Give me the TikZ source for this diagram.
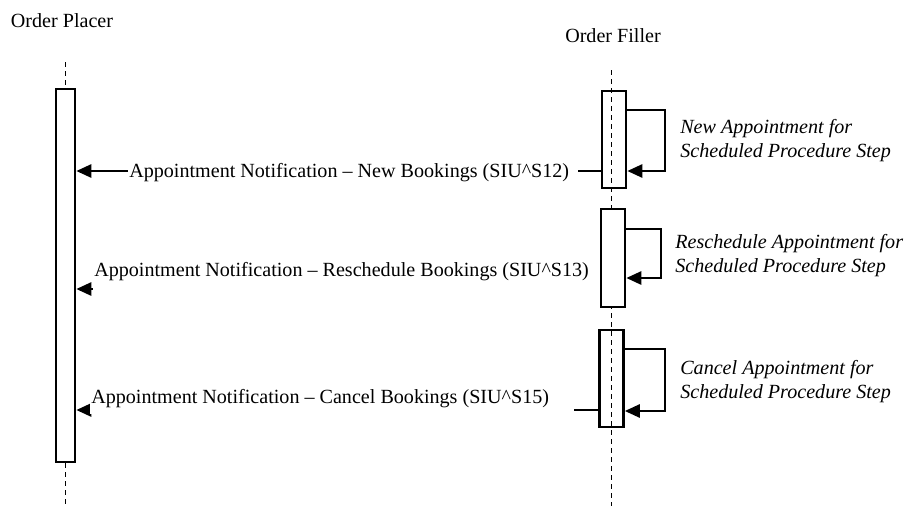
\documentclass[tikz,border=0pt]{standalone}
\usepackage{fontspec}
\setmainfont{Liberation Serif}
\usetikzlibrary{arrows.meta,positioning}
\definecolor{ink}{RGB}{0,0,0}
\tikzset{
  every picture/.style={color=ink, line width=0.6pt, font=\fontsize{20.1}{24}\selectfont},
  head/.style={inner sep=1pt},
  bar/.style={draw=ink, line width=2.6pt, minimum width=19pt, inner sep=0pt},
  act/.style={draw=ink, line width=2.6pt, minimum width=24pt, inner sep=0pt},
  life/.style={line width=1pt, dash pattern=on 5pt off 4pt},
  call/.style={-{Triangle[length=15pt,width=13pt]}, line width=2.6pt},
  msg/.style={fill=white, inner sep=1pt, align=flush left},
  note/.style={font=\fontsize{20.1}{24}\selectfont\itshape, align=left, inner sep=1pt},
}
\begin{document}
\begin{tikzpicture}[x=1pt, y=-1pt]
  \useasboundingbox (0,0) rectangle (907,506);
  % placer
  \node[head] (OP) at (62,21) {Order Placer};
  \node[bar, fill=white, minimum height=373pt] (PB) at (65.5,275.5) {};
  \coordinate (ptop) at (65.5,62);
  \coordinate (pend) at (65.5,506);
  \draw[life] (ptop) -- (PB.north);
  \draw[life] (PB.south) -- (pend);
  % filler
  \node[head] (OF) at (613,36) {Order Filler};
  \coordinate (ftop) at (611,70);
  \coordinate (fend) at (611,506);
  \draw[life] (ftop) -- (fend);
  \node[act, minimum height=97pt] (A1) at (614,139.5) {};
  \node[act, fill=white, minimum height=98pt] (A2) at (613,258) {};
  \node[act, minimum height=97pt] (A3) at (611.5,378.5) {};
  % steps
  \foreach \b/\t/\u/\r in {A1/110/171/665, A2/229/278/661, A3/349/411/665}
    \draw[call] (\b.east |- 0,\t) -| (\r,\u) -- (\b.east |- 0,\u);
  \node[note, anchor=west] (N1) at (679,141) {New Appointment for\\Scheduled Procedure Step};
  \node[note, anchor=west] (N2) at (674,256) {Reschedule Appointment for\\Scheduled Procedure Step};
  \node[note, anchor=west] (N3) at (679,382) {Cancel Appointment for\\Scheduled Procedure Step};
  % messages
  \draw[call] (A1.west |- 0,171) -- (PB.east |- 0,171);
  \draw[call] (A2.west |- 0,289) -- (PB.east |- 0,289);
  \draw[call] (A3.west |- 0,410) -- (PB.east |- 0,410);
  \node[msg, anchor=base west, text width=448pt] (M1) at (128,177.5) {Appointment Notification -- New Bookings (SIU\textasciicircum S12)};
  \node[msg, anchor=base west, text depth=15pt, text width=505pt] (M2) at (93,276.5) {Appointment Notification -- Reschedule Bookings (SIU\textasciicircum S13)};
  \node[msg, anchor=base west, text depth=9pt, text width=482pt] (M3) at (90,403.5) {Appointment Notification -- Cancel Bookings (SIU\textasciicircum S15)};
\end{tikzpicture}
\end{document}
